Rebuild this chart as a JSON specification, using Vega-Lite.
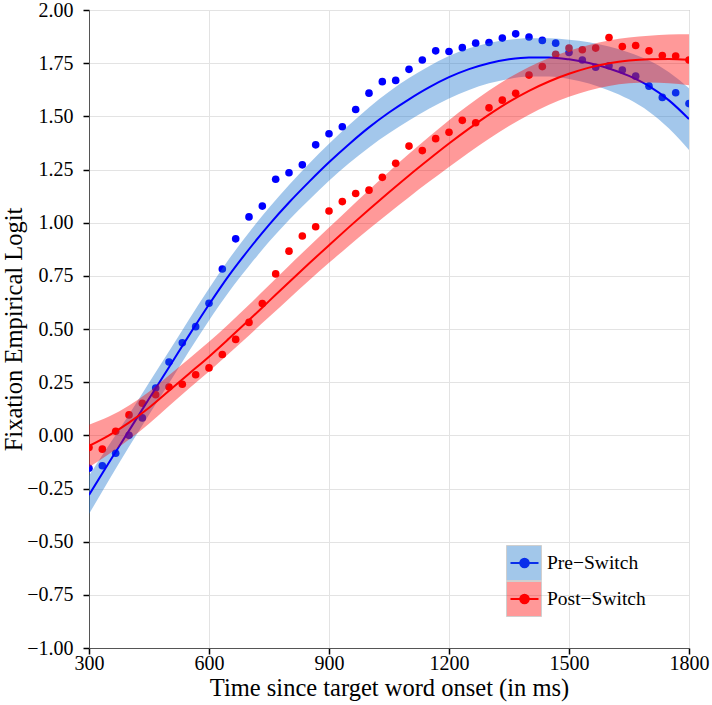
{
  "$schema": "https://vega.github.io/schema/vega-lite/v6.json",
  "width": 600,
  "height": 638,
  "autosize": {"type": "none"},
  "padding": {"left": 89, "top": 10, "right": 23, "bottom": 57},
  "background": "white",
  "config": {
    "view": {"stroke": "#9a9a9a", "strokeWidth": 1},
    "font": "Liberation Serif",
    "axis": {
      "labelFont": "Liberation Serif", "labelFontSize": 20, "labelColor": "black",
      "titleFont": "Liberation Serif", "titleFontSize": 24.5, "titleFontWeight": "normal", "titleColor": "black",
      "tickColor": "black", "tickSize": 6, "tickWidth": 1.5,
      "domainColor": "#555555", "gridColor": "#e3e3e3", "gridWidth": 1
    }
  },
  "datasets": {
    "pts": [
      {"t":300,"v":-0.155,"condition":"Pre−Switch"},{"t":333.3,"v":-0.143,"condition":"Pre−Switch"},{"t":366.7,"v":-0.084,"condition":"Pre−Switch"},{"t":400,"v":0.0,"condition":"Pre−Switch"},{"t":433.3,"v":0.082,"condition":"Pre−Switch"},{"t":466.7,"v":0.222,"condition":"Pre−Switch"},{"t":500,"v":0.345,"condition":"Pre−Switch"},{"t":533.3,"v":0.435,"condition":"Pre−Switch"},{"t":566.7,"v":0.511,"condition":"Pre−Switch"},{"t":600,"v":0.621,"condition":"Pre−Switch"},{"t":633.3,"v":0.782,"condition":"Pre−Switch"},{"t":666.7,"v":0.924,"condition":"Pre−Switch"},{"t":700,"v":1.027,"condition":"Pre−Switch"},{"t":733.3,"v":1.078,"condition":"Pre−Switch"},{"t":766.7,"v":1.204,"condition":"Pre−Switch"},{"t":800,"v":1.235,"condition":"Pre−Switch"},{"t":833.3,"v":1.272,"condition":"Pre−Switch"},{"t":866.7,"v":1.366,"condition":"Pre−Switch"},{"t":900,"v":1.418,"condition":"Pre−Switch"},{"t":933.3,"v":1.451,"condition":"Pre−Switch"},{"t":966.7,"v":1.532,"condition":"Pre−Switch"},{"t":1000,"v":1.609,"condition":"Pre−Switch"},{"t":1033.3,"v":1.663,"condition":"Pre−Switch"},{"t":1066.7,"v":1.669,"condition":"Pre−Switch"},{"t":1100,"v":1.721,"condition":"Pre−Switch"},{"t":1133.3,"v":1.765,"condition":"Pre−Switch"},{"t":1166.7,"v":1.808,"condition":"Pre−Switch"},{"t":1200,"v":1.805,"condition":"Pre−Switch"},{"t":1233.3,"v":1.823,"condition":"Pre−Switch"},{"t":1266.7,"v":1.844,"condition":"Pre−Switch"},{"t":1300,"v":1.847,"condition":"Pre−Switch"},{"t":1333.3,"v":1.868,"condition":"Pre−Switch"},{"t":1366.7,"v":1.888,"condition":"Pre−Switch"},{"t":1400,"v":1.873,"condition":"Pre−Switch"},{"t":1433.3,"v":1.857,"condition":"Pre−Switch"},{"t":1466.7,"v":1.844,"condition":"Pre−Switch"},{"t":1500,"v":1.8,"condition":"Pre−Switch"},{"t":1533.3,"v":1.765,"condition":"Pre−Switch"},{"t":1566.7,"v":1.731,"condition":"Pre−Switch"},{"t":1600,"v":1.738,"condition":"Pre−Switch"},{"t":1633.3,"v":1.718,"condition":"Pre−Switch"},{"t":1666.7,"v":1.689,"condition":"Pre−Switch"},{"t":1700,"v":1.642,"condition":"Pre−Switch"},{"t":1733.3,"v":1.589,"condition":"Pre−Switch"},{"t":1766.7,"v":1.611,"condition":"Pre−Switch"},{"t":1800,"v":1.56,"condition":"Pre−Switch"},
      {"t":300,"v":-0.057,"condition":"Post−Switch"},{"t":333.3,"v":-0.065,"condition":"Post−Switch"},{"t":366.7,"v":0.019,"condition":"Post−Switch"},{"t":400,"v":0.096,"condition":"Post−Switch"},{"t":433.3,"v":0.151,"condition":"Post−Switch"},{"t":466.7,"v":0.191,"condition":"Post−Switch"},{"t":500,"v":0.227,"condition":"Post−Switch"},{"t":533.3,"v":0.24,"condition":"Post−Switch"},{"t":566.7,"v":0.285,"condition":"Post−Switch"},{"t":600,"v":0.317,"condition":"Post−Switch"},{"t":633.3,"v":0.38,"condition":"Post−Switch"},{"t":666.7,"v":0.451,"condition":"Post−Switch"},{"t":700,"v":0.531,"condition":"Post−Switch"},{"t":733.3,"v":0.62,"condition":"Post−Switch"},{"t":766.7,"v":0.759,"condition":"Post−Switch"},{"t":800,"v":0.866,"condition":"Post−Switch"},{"t":833.3,"v":0.937,"condition":"Post−Switch"},{"t":866.7,"v":0.981,"condition":"Post−Switch"},{"t":900,"v":1.055,"condition":"Post−Switch"},{"t":933.3,"v":1.099,"condition":"Post−Switch"},{"t":966.7,"v":1.137,"condition":"Post−Switch"},{"t":1000,"v":1.153,"condition":"Post−Switch"},{"t":1033.3,"v":1.213,"condition":"Post−Switch"},{"t":1066.7,"v":1.279,"condition":"Post−Switch"},{"t":1100,"v":1.36,"condition":"Post−Switch"},{"t":1133.3,"v":1.339,"condition":"Post−Switch"},{"t":1166.7,"v":1.395,"condition":"Post−Switch"},{"t":1200,"v":1.425,"condition":"Post−Switch"},{"t":1233.3,"v":1.481,"condition":"Post−Switch"},{"t":1266.7,"v":1.47,"condition":"Post−Switch"},{"t":1300,"v":1.54,"condition":"Post−Switch"},{"t":1333.3,"v":1.576,"condition":"Post−Switch"},{"t":1366.7,"v":1.608,"condition":"Post−Switch"},{"t":1400,"v":1.694,"condition":"Post−Switch"},{"t":1433.3,"v":1.734,"condition":"Post−Switch"},{"t":1466.7,"v":1.792,"condition":"Post−Switch"},{"t":1500,"v":1.821,"condition":"Post−Switch"},{"t":1533.3,"v":1.813,"condition":"Post−Switch"},{"t":1566.7,"v":1.821,"condition":"Post−Switch"},{"t":1600,"v":1.871,"condition":"Post−Switch"},{"t":1633.3,"v":1.828,"condition":"Post−Switch"},{"t":1666.7,"v":1.833,"condition":"Post−Switch"},{"t":1700,"v":1.808,"condition":"Post−Switch"},{"t":1733.3,"v":1.786,"condition":"Post−Switch"},{"t":1766.7,"v":1.784,"condition":"Post−Switch"},{"t":1800,"v":1.765,"condition":"Post−Switch"}
    ],
    "fit": [
      {"t":300,"fit":-0.28,"lo":-0.37,"hi":-0.19,"group":"Pre−Switch"},{"t":350,"fit":-0.128,"lo":-0.21,"hi":-0.046,"group":"Pre−Switch"},{"t":400,"fit":0.022,"lo":-0.054,"hi":0.098,"group":"Pre−Switch"},{"t":450,"fit":0.172,"lo":0.097,"hi":0.247,"group":"Pre−Switch"},{"t":500,"fit":0.32,"lo":0.245,"hi":0.395,"group":"Pre−Switch"},{"t":550,"fit":0.47,"lo":0.395,"hi":0.545,"group":"Pre−Switch"},{"t":600,"fit":0.615,"lo":0.54,"hi":0.69,"group":"Pre−Switch"},{"t":650,"fit":0.752,"lo":0.675,"hi":0.829,"group":"Pre−Switch"},{"t":700,"fit":0.875,"lo":0.796,"hi":0.954,"group":"Pre−Switch"},{"t":750,"fit":0.99,"lo":0.91,"hi":1.07,"group":"Pre−Switch"},{"t":800,"fit":1.095,"lo":1.013,"hi":1.177,"group":"Pre−Switch"},{"t":850,"fit":1.192,"lo":1.107,"hi":1.277,"group":"Pre−Switch"},{"t":900,"fit":1.284,"lo":1.197,"hi":1.371,"group":"Pre−Switch"},{"t":950,"fit":1.369,"lo":1.279,"hi":1.459,"group":"Pre−Switch"},{"t":1000,"fit":1.448,"lo":1.354,"hi":1.542,"group":"Pre−Switch"},{"t":1050,"fit":1.518,"lo":1.42,"hi":1.616,"group":"Pre−Switch"},{"t":1100,"fit":1.58,"lo":1.48,"hi":1.68,"group":"Pre−Switch"},{"t":1150,"fit":1.636,"lo":1.536,"hi":1.736,"group":"Pre−Switch"},{"t":1200,"fit":1.684,"lo":1.584,"hi":1.784,"group":"Pre−Switch"},{"t":1250,"fit":1.722,"lo":1.624,"hi":1.82,"group":"Pre−Switch"},{"t":1300,"fit":1.75,"lo":1.655,"hi":1.845,"group":"Pre−Switch"},{"t":1350,"fit":1.768,"lo":1.676,"hi":1.86,"group":"Pre−Switch"},{"t":1400,"fit":1.777,"lo":1.687,"hi":1.867,"group":"Pre−Switch"},{"t":1450,"fit":1.777,"lo":1.687,"hi":1.867,"group":"Pre−Switch"},{"t":1500,"fit":1.768,"lo":1.676,"hi":1.86,"group":"Pre−Switch"},{"t":1550,"fit":1.751,"lo":1.654,"hi":1.848,"group":"Pre−Switch"},{"t":1600,"fit":1.725,"lo":1.622,"hi":1.828,"group":"Pre−Switch"},{"t":1650,"fit":1.69,"lo":1.58,"hi":1.8,"group":"Pre−Switch"},{"t":1700,"fit":1.642,"lo":1.522,"hi":1.762,"group":"Pre−Switch"},{"t":1750,"fit":1.575,"lo":1.443,"hi":1.707,"group":"Pre−Switch"},{"t":1800,"fit":1.487,"lo":1.342,"hi":1.632,"group":"Pre−Switch"},
      {"t":300,"fit":-0.05,"lo":-0.15,"hi":0.05,"group":"Post−Switch"},{"t":350,"fit":0.0,"lo":-0.088,"hi":0.088,"group":"Post−Switch"},{"t":400,"fit":0.06,"lo":-0.02,"hi":0.14,"group":"Post−Switch"},{"t":450,"fit":0.13,"lo":0.055,"hi":0.205,"group":"Post−Switch"},{"t":500,"fit":0.21,"lo":0.138,"hi":0.282,"group":"Post−Switch"},{"t":550,"fit":0.29,"lo":0.22,"hi":0.36,"group":"Post−Switch"},{"t":600,"fit":0.37,"lo":0.3,"hi":0.44,"group":"Post−Switch"},{"t":650,"fit":0.455,"lo":0.385,"hi":0.525,"group":"Post−Switch"},{"t":700,"fit":0.542,"lo":0.47,"hi":0.614,"group":"Post−Switch"},{"t":750,"fit":0.631,"lo":0.556,"hi":0.706,"group":"Post−Switch"},{"t":800,"fit":0.72,"lo":0.642,"hi":0.798,"group":"Post−Switch"},{"t":850,"fit":0.808,"lo":0.728,"hi":0.888,"group":"Post−Switch"},{"t":900,"fit":0.894,"lo":0.811,"hi":0.977,"group":"Post−Switch"},{"t":950,"fit":0.979,"lo":0.892,"hi":1.066,"group":"Post−Switch"},{"t":1000,"fit":1.062,"lo":0.97,"hi":1.154,"group":"Post−Switch"},{"t":1050,"fit":1.143,"lo":1.046,"hi":1.24,"group":"Post−Switch"},{"t":1100,"fit":1.222,"lo":1.12,"hi":1.324,"group":"Post−Switch"},{"t":1150,"fit":1.298,"lo":1.192,"hi":1.404,"group":"Post−Switch"},{"t":1200,"fit":1.372,"lo":1.262,"hi":1.482,"group":"Post−Switch"},{"t":1250,"fit":1.442,"lo":1.33,"hi":1.554,"group":"Post−Switch"},{"t":1300,"fit":1.508,"lo":1.395,"hi":1.621,"group":"Post−Switch"},{"t":1350,"fit":1.568,"lo":1.455,"hi":1.681,"group":"Post−Switch"},{"t":1400,"fit":1.62,"lo":1.508,"hi":1.732,"group":"Post−Switch"},{"t":1450,"fit":1.664,"lo":1.554,"hi":1.774,"group":"Post−Switch"},{"t":1500,"fit":1.7,"lo":1.592,"hi":1.808,"group":"Post−Switch"},{"t":1550,"fit":1.729,"lo":1.622,"hi":1.836,"group":"Post−Switch"},{"t":1600,"fit":1.75,"lo":1.643,"hi":1.857,"group":"Post−Switch"},{"t":1650,"fit":1.763,"lo":1.655,"hi":1.871,"group":"Post−Switch"},{"t":1700,"fit":1.769,"lo":1.659,"hi":1.879,"group":"Post−Switch"},{"t":1750,"fit":1.77,"lo":1.655,"hi":1.885,"group":"Post−Switch"},{"t":1800,"fit":1.766,"lo":1.646,"hi":1.886,"group":"Post−Switch"}
    ]
  },
  "layer": [
    {
      "data": {"name": "pts"},
      "mark": {"type": "point", "filled": true, "size": 58, "opacity": 1, "clip": true},
      "encoding": {
        "x": {"field": "t", "type": "quantitative", "scale": {"domain": [300, 1800], "nice": false, "zero": false},
              "axis": {"title": "Time since target word onset (in ms)", "values": [300, 600, 900, 1200, 1500, 1800], "format": "d", "labelFlush": false, "labelPadding": -1, "titlePadding": 3}},
        "y": {"field": "v", "type": "quantitative", "scale": {"domain": [-1, 2], "nice": false, "zero": false},
              "axis": {"title": "Fixation Empirical Logit",
                       "values": [-1,-0.875,-0.75,-0.625,-0.5,-0.375,-0.25,-0.125,0,0.125,0.25,0.375,0.5,0.625,0.75,0.875,1,1.125,1.25,1.375,1.5,1.625,1.75,1.875,2],
                       "labelExpr": "datum.value % 0.25 === 0 ? format(datum.value, '.2f') : ''",
                       "tickOpacity": {"condition": {"test": "datum.value % 0.25 !== 0", "value": 0}, "value": 1},
                       "gridColor": {"condition": {"test": "datum.value % 0.25 !== 0", "value": "#f1f1f1"}, "value": "#e3e3e3"},
                       "labelFlush": false, "labelPadding": 10, "titlePadding": 0}},
        "fill": {"field": "condition", "type": "nominal", "sort": ["Pre−Switch", "Post−Switch"],
                 "scale": {"range": ["#0000ff", "#ff0000"]},
                 "legend": {"orient": "none", "legendX": 417, "legendY": 535, "title": null,
                            "symbolType": "M-0.8,0L0.8,0M0.245,0A0.245,0.245,0,1,1,-0.245,0A0.245,0.245,0,1,1,0.245,0Z",
                            "symbolSize": 1225, "symbolStrokeWidth": 2, "symbolOpacity": 1, "clipHeight": 36,
                            "labelFont": "Liberation Serif", "labelFontSize": 19.5, "labelColor": "black", "labelOffset": 4,
                            "padding": 0, "rowPadding": 0,
                            "encode": {"symbols": {"update": {"stroke": {"scale": "fill", "field": "value"}, "fill": {"scale": "fill", "field": "value"}, "opacity": {"value": 1}}}}}}
      }
    },
    {
      "data": {"name": "fit"},
      "transform": [{"filter": "datum.group === 'Pre−Switch'"}],
      "mark": {"type": "area", "opacity": 0.4, "clip": true, "interpolate": "monotone"},
      "encoding": {
        "x": {"field": "t", "type": "quantitative"},
        "y": {"field": "lo", "type": "quantitative"},
        "y2": {"field": "hi"},
        "color": {"field": "group", "type": "nominal", "sort": ["Pre−Switch", "Post−Switch"],
                  "scale": {"range": ["#1874cd", "#ff0000"]},
                  "legend": {"orient": "none", "legendX": 417, "legendY": 535, "title": null,
                             "symbolType": "square", "symbolSize": 1225, "symbolOpacity": 0.4, "clipHeight": 36,
                             "symbolStrokeColor": "#888888", "symbolStrokeWidth": 1,
                             "labelExpr": "''", "labelFontSize": 19.5, "padding": 0, "rowPadding": 0}}
      }
    },
    {
      "data": {"name": "fit"},
      "transform": [{"filter": "datum.group === 'Pre−Switch'"}],
      "mark": {"type": "line", "strokeWidth": 2, "clip": true, "interpolate": "monotone"},
      "encoding": {
        "x": {"field": "t", "type": "quantitative"},
        "y": {"field": "fit", "type": "quantitative"},
        "stroke": {"field": "group", "type": "nominal", "sort": ["Pre−Switch", "Post−Switch"],
                   "scale": {"range": ["#0000ff", "#ff0000"]}, "legend": null}
      }
    },
    {
      "data": {"name": "fit"},
      "transform": [{"filter": "datum.group === 'Post−Switch'"}],
      "mark": {"type": "area", "opacity": 0.4, "clip": true, "interpolate": "monotone"},
      "encoding": {
        "x": {"field": "t", "type": "quantitative"},
        "y": {"field": "lo", "type": "quantitative"},
        "y2": {"field": "hi"},
        "color": {"field": "group", "type": "nominal", "sort": ["Pre−Switch", "Post−Switch"]}
      }
    },
    {
      "data": {"name": "fit"},
      "transform": [{"filter": "datum.group === 'Post−Switch'"}],
      "mark": {"type": "line", "strokeWidth": 2, "clip": true, "interpolate": "monotone"},
      "encoding": {
        "x": {"field": "t", "type": "quantitative"},
        "y": {"field": "fit", "type": "quantitative"},
        "stroke": {"field": "group", "type": "nominal", "sort": ["Pre−Switch", "Post−Switch"], "legend": null}
      }
    },
    {
      "mark": {"type": "rule", "color": "black", "strokeWidth": 2, "strokeDash": [10, 7]},
      "encoding": {"y": {"datum": 0, "type": "quantitative"}}
    }
  ]
}
